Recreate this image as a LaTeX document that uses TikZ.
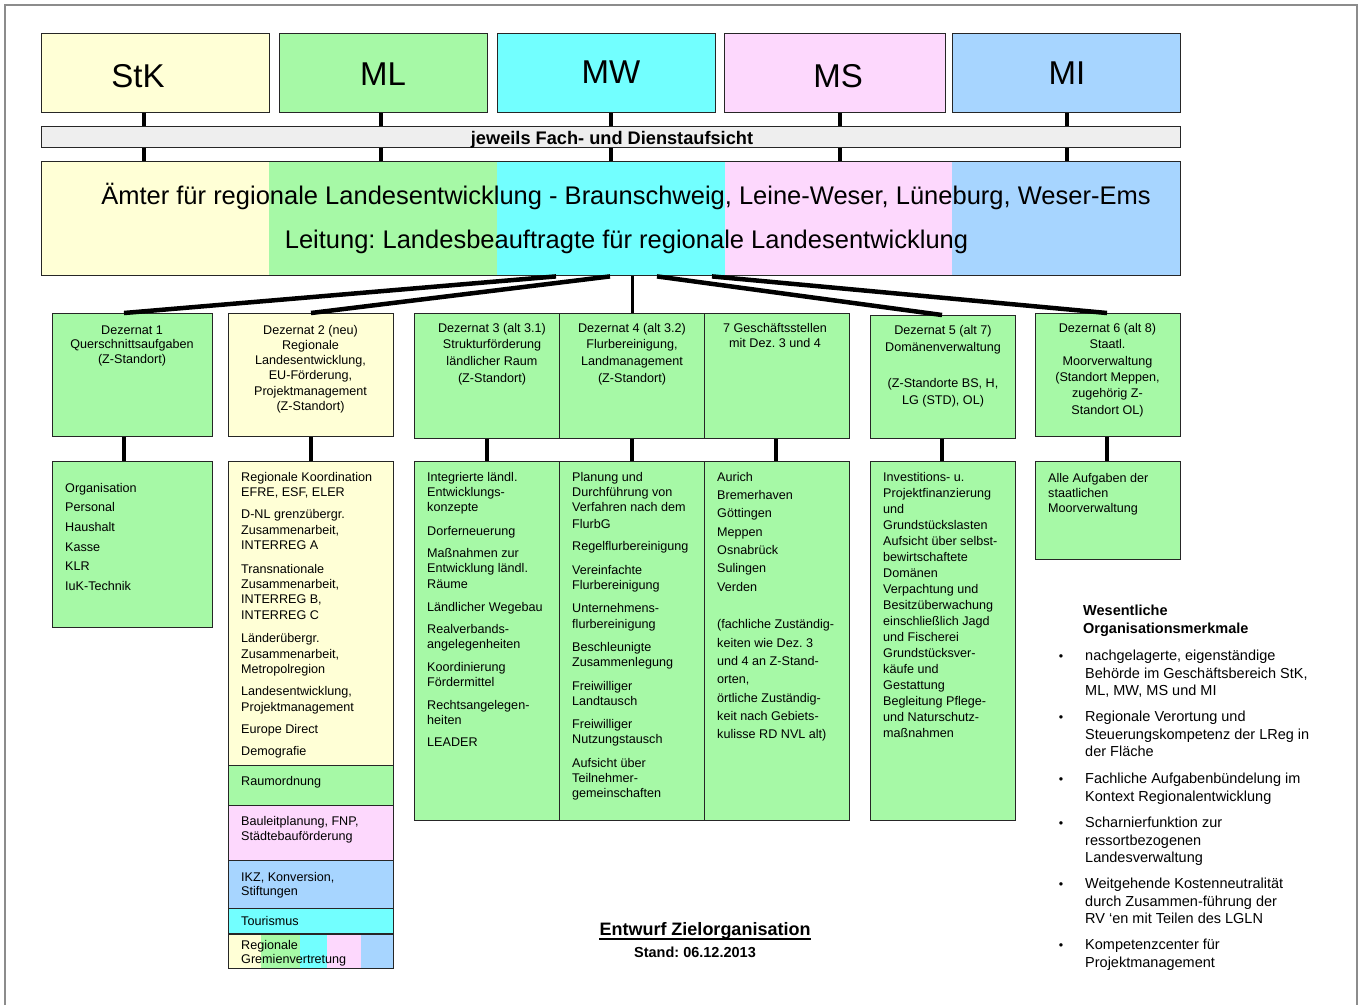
\documentclass[tikz,border=0pt]{standalone}
\usepackage{fontspec}
\setmainfont{Liberation Sans}
\frenchspacing
\definecolor{cy}{HTML}{FFFFD6}
\definecolor{cg}{HTML}{A6F9A6}
\definecolor{cc}{HTML}{72FFFF}
\definecolor{cp}{HTML}{FDD8FD}
\definecolor{cb}{HTML}{A7D5FF}
\definecolor{cgray}{HTML}{EEEEEE}
\newcommand\fs{\rule{0pt}{10pt}}
\newcommand\fr{\rule{0pt}{12pt}}
\newcommand\mkbox[6]{%
  \pgfmathsetmacro\mkw{#4-#2}%
  \pgfmathsetmacro\mkh{#5-#3}%
  \node[box, fill=#6, minimum width=\mkw pt, minimum height=\mkh pt] (#1) at (#2,#3) {};%
}
\tikzset{
 box/.style={draw=black!85, line width=1.4pt, inner sep=0pt, anchor=north west},
 stub/.style={line width=4pt},
 fan/.style={line width=4.5pt},
 hd/.style={font=\fontsize{33}{40}\selectfont, inner sep=0pt, anchor=base},
 bart/.style={font=\bfseries\fontsize{18.2}{21}\selectfont, inner sep=0pt, anchor=base},
 big/.style={font=\fontsize{25.5}{30}\selectfont, inner sep=0pt, anchor=base},
 dz/.style={font=\fontsize{12.6}{#1}\selectfont, inner sep=0pt, align=center, anchor=north},
 ls/.style={font=\fontsize{12.6}{#1}\selectfont, inner sep=0pt, align=left, anchor=north west},
 rt/.style={font=\fontsize{14.5}{#1}\selectfont, inner sep=0pt, align=left, anchor=north west},
 bul/.style={font=\fontsize{12.5}{14}\selectfont, inner sep=0pt, anchor=base},
}
\begin{document}
\begin{tikzpicture}[x=1pt,y=-1pt]
\useasboundingbox (0,0) rectangle (1359,1005);
\fill[white] (0,0) rectangle (1359,1005);
\draw[black!45, line width=1.2pt] (5,1005) -- (5,5) -- (1357,5) -- (1357,1005);

% coordinates for connector x positions
\coordinate (xa) at (144,0);
\coordinate (xb) at (381,0);
\coordinate (xc) at (611,0);
\coordinate (xd) at (840,0);
\coordinate (xe) at (1067,0);
\coordinate (s1) at (124,0);
\coordinate (s2) at (311,0);
\coordinate (s3) at (487,0);
\coordinate (s4) at (632,0);
\coordinate (s7) at (776,0);
\coordinate (s5) at (942,0);
\coordinate (s6) at (1107,0);
\coordinate (f1) at (556,0);
\coordinate (f2) at (610,0);
\coordinate (f5) at (657,0);
\coordinate (f6) at (712,0);

% header boxes
\mkbox{hStK}{41}{33}{269}{112}{cy}
\mkbox{hML}{279}{33}{487}{112}{cg}
\mkbox{hMW}{497}{33}{715}{112}{cc}
\mkbox{hMS}{724}{33}{945}{112}{cp}
\mkbox{hMI}{952}{33}{1180}{112}{cb}
\node[hd] (tStK) at (138,87) {StK};
\node[hd] (tML) at (383,85) {ML};
\node[hd] (tMW) at (611,83) {MW};
\node[hd] (tMS) at (838,87) {MS};
\node[hd] (tMI) at (1067,84) {MI};

% supervision bar
\mkbox{bar}{41}{126}{1180}{147}{cgray}
\node[bart] (tbar) at (612,144) {jeweils Fach- und Dienstaufsicht};

% main office box
\fill[cy] (41,161) rectangle (269,275);
\fill[cg] (269,161) rectangle (497,275);
\fill[cc] (497,161) rectangle (725,275);
\fill[cp] (725,161) rectangle (952,275);
\fill[cb] (952,161) rectangle (1180,275);
\mkbox{amt}{41}{161}{1180}{275}{none}
\node[big] (tamt1) at (626,204) {Ämter für regionale Landesentwicklung - Braunschweig, Leine-Weser, Lüneburg, Weser-Ems};
\node[big] (tamt2) at (626.5,248) {Leitung: Landesbeauftragte für regionale Landesentwicklung};

% stubs top
\foreach \h/\c in {hStK/xa,hML/xb,hMW/xc,hMS/xd,hMI/xe}{
  \draw[stub] (\h.south -| \c) -- (bar.north -| \c);
  \draw[stub] (bar.south -| \c) -- (amt.north -| \c);
}

% Dezernat boxes
\mkbox{d1}{52}{313}{212}{436}{cg}
\mkbox{d2}{228}{313}{393}{436}{cy}
\mkbox{d3}{414}{313}{559}{438}{cg}
\mkbox{d4}{559}{313}{704}{438}{cg}
\mkbox{d7}{704}{313}{849}{438}{cg}
\mkbox{d5}{870}{315}{1015}{438}{cg}
\mkbox{d6}{1035}{313}{1180}{436}{cg}

% fan connectors
\draw[fan] (amt.south -| f1) -- (d1.north -| s1);
\draw[fan] (amt.south -| f2) -- (d2.north -| s2);
\draw[line width=3pt] (amt.south -| s4) -- (d4.north -| s4);
\draw[fan] (amt.south -| f5) -- (d5.north -| s5);
\draw[fan] (amt.south -| f6) -- (d6.north -| s6);

% list boxes
\mkbox{l1}{52}{461}{212}{627}{cg}
\mkbox{l2}{228}{461}{393}{765}{cy}
\mkbox{r1}{228}{765}{393}{805}{cg}
\mkbox{r2}{228}{805}{393}{860}{cp}
\mkbox{r3}{228}{860}{393}{908}{cb}
\mkbox{r4}{228}{908}{393}{933}{cc}
\fill[cy] (228,934) rectangle (261,968);
\fill[cg] (261,934) rectangle (300,968);
\fill[cc] (300,934) rectangle (327,968);
\fill[cp] (327,934) rectangle (361,968);
\fill[cb] (361,934) rectangle (393,968);
\mkbox{r5}{228}{934}{393}{968}{none}
\mkbox{l3}{414}{461}{559}{820}{cg}
\mkbox{l4}{559}{461}{704}{820}{cg}
\mkbox{l7}{704}{461}{849}{820}{cg}
\mkbox{l5}{870}{461}{1015}{820}{cg}
\mkbox{l6}{1035}{461}{1180}{559}{cg}

% stubs between Dezernat and lists
\draw[stub] (d1.south -| s1) -- (l1.north -| s1);
\draw[stub] (d2.south -| s2) -- (l2.north -| s2);
\draw[stub] (d3.south -| s3) -- (l3.north -| s3);
\draw[stub] (d4.south -| s4) -- (l4.north -| s4);
\draw[stub] (d7.south -| s7) -- (l7.north -| s7);
\draw[stub] (d5.south -| s5) -- (l5.north -| s5);
\draw[stub] (d6.south -| s6) -- (l6.north -| s6);

% Dezernat texts
\node[dz=14.5] (td1) at (132,324) {\fs Dezernat 1\\Querschnittsaufgaben\\(Z-Standort)};
\node[dz=15.2] (td2) at (310.5,324) {\fs Dezernat 2 (neu)\\Regionale\\Landesentwicklung,\\EU-Förderung,\\Projektmanagement\\(Z-Standort)};
\node[dz=16.6] (td3) at (492,322) {\fs Dezernat 3 (alt 3.1)\\Strukturförderung\\ländlicher Raum\\(Z-Standort)};
\node[dz=16.6] (td4) at (632,322) {\fs Dezernat 4 (alt 3.2)\\Flurbereinigung,\\Landmanagement\\(Z-Standort)};
\node[dz=15] (td7) at (775,322) {\fs 7 Geschäftsstellen\\mit Dez. 3 und 4};
\node[dz=17.5] (td5) at (943,324) {\fs Dezernat 5 (alt 7)\\Domänenverwaltung\\[18pt](Z-Standorte BS, H,\\LG (STD), OL)};
\node[dz=16.4] (td6) at (1107.5,322) {\fs Dezernat 6 (alt 8)\\Staatl.\\Moorverwaltung\\(Standort Meppen,\\zugehörig Z-\\Standort OL)};

% list texts
\node[ls=19.6] (tl1) at (65,482) {\fs Organisation\\Personal\\Haushalt\\Kasse\\KLR\\IuK-Technik};
\node[ls=15.3] (tl2) at (241,471) {\fs Regionale Koordination\\EFRE, ESF, ELER\\[7pt]D-NL grenzübergr.\\Zusammenarbeit,\\INTERREG A\\[8.5pt]Transnationale\\Zusammenarbeit,\\INTERREG B,\\INTERREG C\\[8.5pt]Länderübergr.\\Zusammenarbeit,\\Metropolregion\\[7pt]Landesentwicklung,\\Projektmanagement\\[7pt]Europe Direct\\[7pt]Demografie};
\node[ls=15] (tr1) at (241,775) {\fs Raumordnung};
\node[ls=15] (tr2) at (241,815) {\fs Bauleitplanung, FNP,\\Städtebauförderung};
\node[ls=14.5] (tr3) at (241,871) {\fs IKZ, Konversion,\\Stiftungen};
\node[ls=15] (tr4) at (241,915.5) {\fs Tourismus};
\node[ls=14] (tr5) at (241,939.5) {\fs Regionale\\Gremienvertretung};
\node[ls=15.3] (tl3) at (427,471) {\fs Integrierte ländl.\\Entwicklungs-\\konzepte\\[8pt]Dorferneuerung\\[7pt]Maßnahmen zur\\Entwicklung ländl.\\Räume\\[8pt]Ländlicher Wegebau\\[7pt]Realverbands-\\angelegenheiten\\[7pt]Koordinierung\\Fördermittel\\[7.5pt]Rechtsangelegen-\\heiten\\[7pt]LEADER};
\node[ls=15.3] (tl4) at (572,471) {\fs Planung und\\Durchführung von\\Verfahren nach dem\\[1.5pt]FlurbG\\[7pt]Regelflurbereinigung\\[8pt]Vereinfachte\\Flurbereinigung\\[8pt]Unternehmens-\\flurbereinigung\\[8pt]Beschleunigte\\Zusammenlegung\\[8pt]Freiwilliger\\Landtausch\\[8pt]Freiwilliger\\Nutzungstausch\\[8pt]Aufsicht über\\Teilnehmer-\\gemeinschaften};
\node[ls=18.3] (tl7) at (717,471) {\fs Aurich\\Bremerhaven\\Göttingen\\Meppen\\Osnabrück\\Sulingen\\Verden\\[19.5pt](fachliche Zuständig-\\keiten wie Dez. 3\\und 4 an Z-Stand-\\orten,\\örtliche Zuständig-\\keit nach Gebiets-\\kulisse RD NVL alt)};
\node[ls=16] (tl5) at (883,471) {\fs Investitions- u.\\Projektfinanzierung\\und\\Grundstückslasten\\Aufsicht über selbst-\\bewirtschaftete\\Domänen\\Verpachtung und\\Besitzüberwachung\\einschließlich Jagd\\und Fischerei\\Grundstücksver-\\käufe und\\Gestattung\\Begleitung Pflege-\\und Naturschutz-\\maßnahmen};
\node[ls=15] (tl6) at (1048,472) {\fs Alle Aufgaben der\\staatlichen\\Moorverwaltung};

% right side text
\node[rt=18, font=\bfseries\fontsize{14.5}{18}\selectfont] (tw) at (1083,603.5) {\fr Wesentliche\\Organisationsmerkmale};
\node[rt=17.3] (b1) at (1085,648.5) {\fr nachgelagerte, eigenständige\\Behörde im Geschäftsbereich StK,\\ML, MW, MS und MI};
\node[rt=17.3] (b2) at (1085,709.5) {\fr Regionale Verortung und\\Steuerungskompetenz der LReg in\\der Fläche};
\node[rt=17.3] (b3) at (1085,771.5) {\fr Fachliche Aufgabenbündelung im\\Kontext Regionalentwicklung};
\node[rt=17.3] (b4) at (1085,815.5) {\fr Scharnierfunktion zur\\ressortbezogenen\\Landesverwaltung};
\node[rt=17.3] (b5) at (1085,876.5) {\fr Weitgehende Kostenneutralität\\durch Zusammen-führung der\\RV ‘en mit Teilen des LGLN};
\node[rt=17.3] (b6) at (1085,937.5) {\fr Kompetenzcenter für\\Projektmanagement};
\foreach \n/\yy in {p1/660.5,p2/721.5,p3/783.5,p4/827.5,p5/888.5,p6/949.5}{
  \node[bul] (\n) at (1061,\yy) {•};
}

% title
\node[font=\bfseries\fontsize{18}{22}\selectfont, inner sep=0pt, anchor=base] (ttl) at (705,935) {Entwurf Zielorganisation};
\draw[line width=1.4pt] ([yshift=-4pt]ttl.base west) -- ([yshift=-4pt]ttl.base east);
\node[font=\bfseries\fontsize{14.5}{18}\selectfont, inner sep=0pt, anchor=base] (tst) at (695,957) {Stand: 06.12.2013};
\end{tikzpicture}
\end{document}
